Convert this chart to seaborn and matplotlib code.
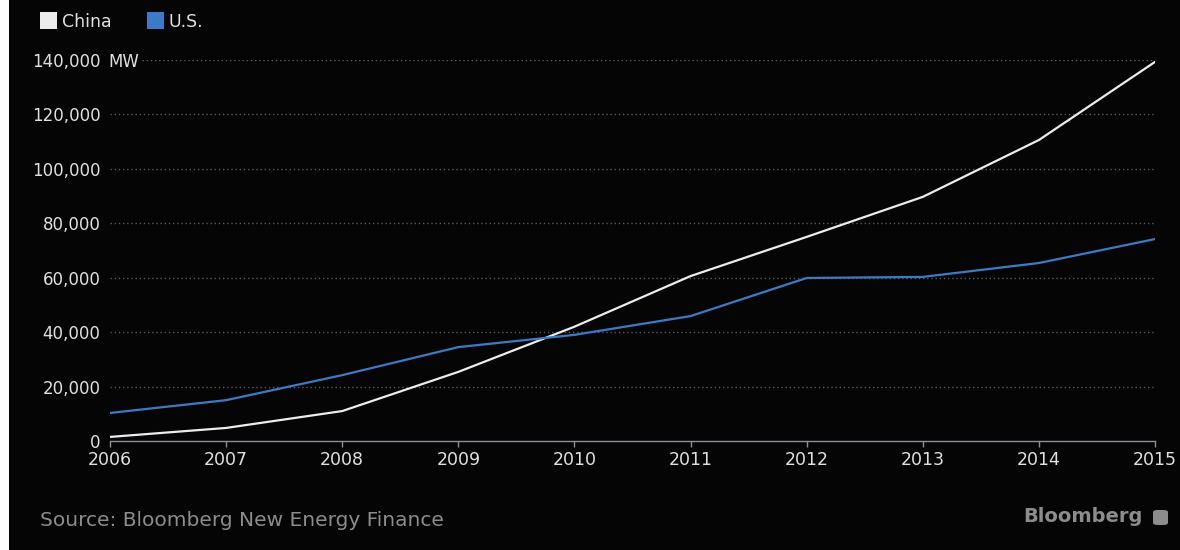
import numpy as np
import pandas as pd
import matplotlib.pyplot as plt
import matplotlib.patches as mpatches
import matplotlib.transforms as mtransforms
import seaborn as sns

# Cumulative wind capacity (MW)
years = [2006, 2007, 2008, 2009, 2010, 2011, 2012, 2013, 2014, 2015]
china = [1500, 4800, 11000, 25400, 42000, 60600, 75000, 89700, 110600, 139300]
us = [10300, 15000, 24200, 34500, 39000, 45900, 59900, 60300, 65400, 74200]
y_ticks = [0, 20000, 40000, 60000, 80000, 100000, 120000, 140000]
y_labels = ['0', '20,000', '40,000', '60,000', '80,000', '100,000', '120,000', '140,000']

df = pd.DataFrame({'year': years * 2,
                   'mw': china + us,
                   'country': ['China'] * len(years) + ['U.S.'] * len(years)})

sns.set_theme(style='dark')
plt.rcParams['font.family'] = ['DejaVu Sans']

bg = '#050505'
fig = plt.figure(figsize=(11.8, 5.5), dpi=100, facecolor=bg)
# thin white strip on the left edge
fig.add_artist(mpatches.Rectangle((0, 0), 9 / 1180, 1, transform=fig.transFigure,
                                  facecolor='white', edgecolor='none'))
ax = fig.add_axes([110 / 1180, 1 - 441 / 550, 1045 / 1180, 381 / 550])
ax.set_facecolor(bg)

# grid lines
for t in y_ticks[1:]:
    xmin = 0.031 if t == y_ticks[-1] else 0.0
    ax.axhline(t, xmin=xmin, xmax=1, color='#5a5a5a', lw=1, ls=(0, (1, 2)), zorder=1)

palette = {'China': '#ececec', 'U.S.': '#3b7bc6'}
sns.lineplot(data=df, x='year', y='mw', hue='country', palette=palette,
             linewidth=1.6, ax=ax, legend=False, zorder=3)

ax.set_xlim(years[0], years[-1])
ax.set_ylim(0, 140000)
ax.set_xlabel('')
ax.set_ylabel('')
ax.set_xticks(years)
ax.set_xticklabels([str(y) for y in years])
ax.set_yticks(y_ticks)
ax.set_yticklabels(y_labels)
ax.tick_params(axis='y', length=0, pad=7, labelsize=12, colors='#e0e0e0')
ax.tick_params(axis='x', length=4, width=1, color='#8a9099', labelsize=12.5,
               labelcolor='#e0e0e0', pad=3, direction='out')
ax.xaxis.set_ticks_position('bottom')
for s in ['top', 'right', 'left']:
    ax.spines[s].set_visible(False)
ax.spines['bottom'].set_color('#8a9099')
ax.spines['bottom'].set_linewidth(1)
ax.grid(False)

# unit next to the top tick label
trans = mtransforms.blended_transform_factory(fig.transFigure, ax.transData)
ax.text(108 / 1180, y_ticks[-1], 'MW', transform=trans, color='#e0e0e0',
        fontsize=12, ha='left', va='center_baseline')

# legend
for x0, name in [(40, 'China'), (147, 'U.S.')]:
    fig.add_artist(mpatches.Rectangle((x0 / 1180, 1 - 29 / 550), 17 / 1180, 17 / 550,
                                      transform=fig.transFigure, facecolor=palette[name],
                                      edgecolor='none'))
    fig.text((x0 + 22) / 1180, 1 - 22 / 550, name, color='#e0e0e0', fontsize=12.5,
             ha='left', va='center')

fig.text(40 / 1180, 1 - 520 / 550, 'Source: Bloomberg New Energy Finance',
         color='#8c8c8c', fontsize=14.5, ha='left', va='center')
fig.text(1143 / 1180, 1 - 517 / 550, 'Bloomberg', color='#8c8c8c', fontsize=14,
         fontweight='bold', ha='right', va='center')
fig.add_artist(mpatches.FancyBboxPatch((1153 / 1180, 1 - 525 / 550), 15 / 1180, 15 / 550,
                                       boxstyle='round,pad=0,rounding_size=0.004',
                                       transform=fig.transFigure, facecolor='#8c8c8c',
                                       edgecolor='none'))

fig.savefig('out.png', dpi=100, facecolor=bg)
